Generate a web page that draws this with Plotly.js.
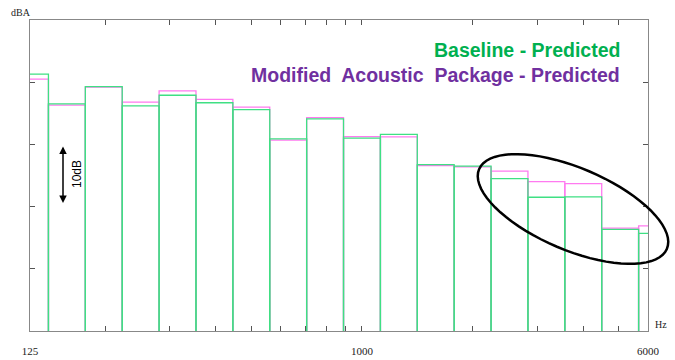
<!DOCTYPE html>
<html>
<head>
<meta charset="utf-8">
<script src="https://cdn.plot.ly/plotly-3.0.1.min.js"></script>
<style>html,body{margin:0;padding:0;background:#fff;}#chart{width:675px;height:360px;}</style>
</head>
<body>
<div id="chart"></div>
<script>
// One-third octave band centre frequencies (Hz)
const bands = [125,160,200,250,315,400,500,630,800,1000,1250,1600,2000,2500,3150,4000,5000,6300];
// Baseline - Predicted (dBA)
const baseline = [61.3,56.5,59.3,56.2,57.9,56.7,55.6,50.9,54.1,51.0,51.6,46.75,46.5,44.5,41.5,41.55,36.35,35.7];
// Modified Acoustic Package - Predicted (dBA)
const modified = [60.5,56.3,59.2,56.8,58.6,57.25,56.0,50.7,54.3,51.25,51.2,46.6,46.4,45.7,44.0,43.7,36.55,36.9];
// Axis ticks
const tickVals = [125,200,300,400,500,600,700,800,900,1000,2000,3000,4000,5000,6000];
const tickText = ['125','','','','','','','','','1000','','','','','6000'];
const yTicks = [30,40,50,60];
const yRange = [20,70];
const xRange = [125,6000];

function exactCentre(f){ const n = Math.round(3*Math.log2(f/1000)); return 1000*Math.pow(2,n/3); }
function outline(vals){
  const xs=[], ys=[];
  bands.forEach((f,i)=>{
    const c = exactCentre(f), lo = c/Math.pow(2,1/6), hi = c*Math.pow(2,1/6);
    xs.push(lo,lo,hi,hi,null);
    ys.push(yRange[0],vals[i],vals[i],yRange[0],null);
  });
  return {x:xs,y:ys};
}
const pm = outline(modified), pb = outline(baseline);
const traces = [
  {x:pm.x,y:pm.y,type:'scatter',mode:'lines',line:{color:'#ff7af0',width:1.3},hoverinfo:'skip',showlegend:false},
  {x:pb.x,y:pb.y,type:'scatter',mode:'lines',line:{color:'#3fe083',width:1.3},hoverinfo:'skip',showlegend:false}
];

// ellipse highlight (paper coords)
const pw=618, ph=311, ox=30, oy=331;
function ell(cx,cy,a,b,deg){
  const t=deg*Math.PI/180; let p='';
  for(let k=0;k<=72;k++){
    const u=2*Math.PI*k/72;
    const px=cx+a*Math.cos(u)*Math.cos(t)-b*Math.sin(u)*Math.sin(t);
    const py=cy+a*Math.cos(u)*Math.sin(t)+b*Math.sin(u)*Math.cos(t);
    p+=(k?'L':'M')+((px-ox)/pw).toFixed(4)+','+((oy-py)/ph).toFixed(4);
  }
  return p+'Z';
}

const layout = {
  width:675,height:360,
  margin:{l:30,r:27,t:20,b:29},
  paper_bgcolor:'#fff',plot_bgcolor:'#fff',
  showlegend:false,
  xaxis:{type:'log',range:[Math.log10(xRange[0]),Math.log10(xRange[1])],
    tickmode:'array',tickvals:tickVals,ticktext:tickText,
    ticks:'inside',ticklen:5,tickcolor:'#555',tickwidth:1,
    showline:true,linecolor:'#888',linewidth:1.2,mirror:'ticks',
    showgrid:false,zeroline:false,ticklabelstandoff:10,
    tickfont:{family:'Liberation Serif',size:11,color:'#222'}},
  yaxis:{range:yRange,tickmode:'array',tickvals:yTicks,ticktext:['','','',''],
    ticks:'inside',ticklen:5,tickcolor:'#555',tickwidth:1,
    showline:true,linecolor:'#888',linewidth:1.2,mirror:'ticks',
    showgrid:false,zeroline:false},
  shapes:[{type:'path',xref:'paper',yref:'paper',path:ell(573,209,102,41,23),
    line:{color:'#000',width:2.5},fillcolor:'rgba(0,0,0,0)'}],
  annotations:[
    {xref:'paper',yref:'paper',x:0.958,y:(331-50)/311,xanchor:'right',yanchor:'middle',showarrow:false,
     text:'<b>Baseline - Predicted</b>',font:{family:'Liberation Sans',size:19.5,color:'#00b050'}},
    {xref:'paper',yref:'paper',x:0.958,y:(331-75)/311,xanchor:'right',yanchor:'middle',showarrow:false,
     text:'<b>Modified  Acoustic  Package - Predicted</b>',font:{family:'Liberation Sans',size:19.5,color:'#7030a0'}},
    {xref:'paper',yref:'paper',x:(63-30)/618,y:(331-203)/311,ax:0,ay:-58,showarrow:true,text:'',
     arrowside:'end+start',arrowhead:2,arrowsize:1,arrowwidth:1.5,arrowcolor:'#000'},
    {xref:'paper',yref:'paper',x:(77-30)/618,y:(331-174)/311,xanchor:'center',yanchor:'middle',showarrow:false,
     text:'10dB',textangle:-90,font:{family:'Liberation Sans',size:12,color:'#000'}},
    {xref:'paper',yref:'paper',x:(9-30)/618,y:(331-12)/311,xanchor:'left',yanchor:'middle',showarrow:false,
     text:'dBA',font:{family:'Liberation Serif',size:10,color:'#222'}},
    {xref:'paper',yref:'paper',x:(653-30)/618,y:(331-324)/311,xanchor:'left',yanchor:'middle',showarrow:false,
     text:'Hz',font:{family:'Liberation Serif',size:10,color:'#222'}}
  ]
};
Plotly.newPlot('chart',traces,layout,{displayModeBar:false,staticPlot:true});
</script>
</body>
</html>
